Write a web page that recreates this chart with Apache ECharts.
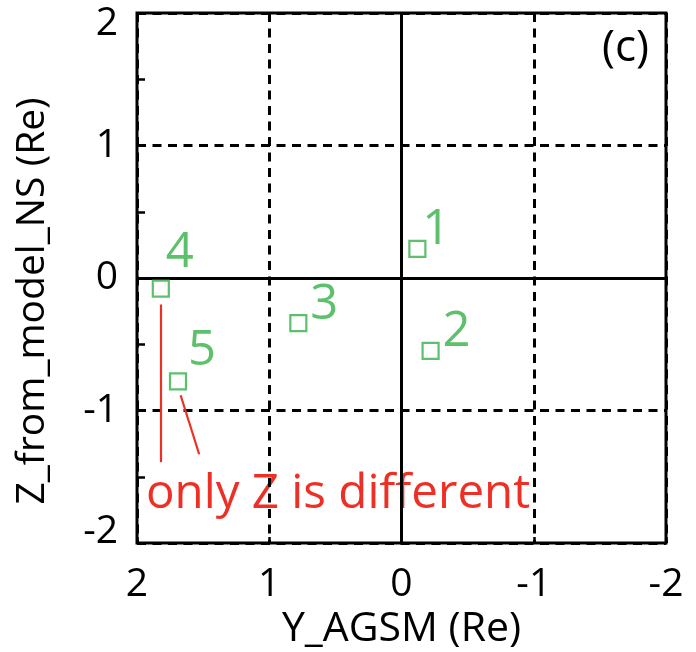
<!DOCTYPE html>
<html>
<head>
<meta charset="utf-8">
<script src="https://cdn.jsdelivr.net/npm/echarts@6/dist/echarts.min.js"></script>
<style>
  html, body { margin: 0; padding: 0; background: #fff; }
  #chart { width: 696px; height: 652px; }
</style>
</head>
<body>
<div id="chart"></div>
<script>
// Point identifiers and their coordinates (Re)
const pointIds = ['1', '2', '3', '4', '5'];
const yAgsm = [-0.12, -0.22, 0.78, 1.82, 1.69];
const zModelNs = [0.22, -0.55, -0.34, -0.08, -0.78];

// Axis ticks
const xTicks = [2, 1, 0, -1, -2];
const yTicks = [-2, -1, 0, 1, 2];

// Annotation pointers (data coordinates): [[x0, y0], [x1, y1]]
const pointerVertical = [[1.82, -0.20], [1.82, -1.39]];
const pointerSlanted = [[1.67, -0.885], [1.53, -1.33]];
const noteText = 'only Z is different';
const panelTag = '(c)';

// Label placement relative to each marker centre (px)
const labelOffsets = [[19, -19], [26, -19], [26, -18], [19, -36], [24, -30]];

const GREEN = '#34b046';
const RED = '#ee2f25';
const FONT = '"Open Sans", Lato, sans-serif';

const chart = echarts.init(document.getElementById('chart'), null, { renderer: 'canvas' });

const scatterData = pointIds.map((id, i) => ({
  value: [yAgsm[i], zModelNs[i]],
  name: id,
  label: { offset: labelOffsets[i] }
}));

// End labels of the vertical axis sit slightly inside the frame
const yMin = yTicks[0], yMax = yTicks[yTicks.length - 1];
const yLabelFormatter = v => v === yMax ? '{hi|' + v + '}' : v === yMin ? '{lo|' + v + '}' : '{n|' + v + '}';

const gridDash = { color: '#000', width: 3, type: [9, 6.5] };

const option = {
  animation: false,
  backgroundColor: '#ffffff',
  grid: {
    left: 137, right: 30, top: 13, bottom: 109,
    outerBoundsMode: 'none',
    containLabel: false,
    show: true, borderColor: '#000', borderWidth: 3, backgroundColor: 'transparent'
  },
  xAxis: {
    type: 'value',
    inverse: true,
    min: xTicks[xTicks.length - 1], max: xTicks[0], interval: 1,
    name: 'Y_AGSM (Re)',
    nameLocation: 'middle', nameGap: 60,
    nameTextStyle: { color: '#000', fontSize: 41, fontFamily: FONT },
    axisLine: { show: false, onZero: false },
    axisTick: { show: true, inside: true, length: 6, lineStyle: { color: '#000', width: 2.5 } },
    axisLabel: { color: '#000', fontSize: 39, fontFamily: FONT, margin: 22 },
    splitLine: { show: true, lineStyle: gridDash }
  },
  yAxis: {
    type: 'value',
    min: yMin, max: yMax, interval: 1,
    name: 'Z_from_model_NS (Re)',
    nameLocation: 'middle', nameGap: 85,
    nameTextStyle: { color: '#000', fontSize: 39, fontFamily: FONT, padding: [0, 46, 0, 0] },
    axisLine: { show: false, onZero: false },
    axisTick: { show: true, inside: true, length: 8, lineStyle: { color: '#000', width: 2.5 } },
    minorTick: { show: true, splitNumber: 2, length: 8, lineStyle: { color: '#000', width: 2.5 } },
    axisLabel: {
      color: '#000', fontSize: 39, fontFamily: FONT, margin: 19,
      formatter: yLabelFormatter,
      rich: {
        hi: { fontSize: 39, fontFamily: FONT, color: '#000', padding: [22, 0, 0, 0] },
        lo: { fontSize: 39, fontFamily: FONT, color: '#000', padding: [0, 0, 22, 0] },
        n: { fontSize: 39, fontFamily: FONT, color: '#000' }
      }
    },
    splitLine: { show: true, lineStyle: gridDash }
  },
  series: [
    {
      // solid zero lines
      type: 'line',
      data: [],
      silent: true,
      markLine: {
        silent: true,
        symbol: 'none',
        label: { show: false },
        lineStyle: { color: '#000', width: 3, type: 'solid' },
        data: [{ xAxis: 0 }, { yAxis: 0 }]
      }
    },
    {
      // red pointers
      type: 'line',
      data: [],
      silent: true,
      markLine: {
        silent: true,
        symbol: 'none',
        label: { show: false },
        lineStyle: { color: RED, width: 2.2, type: 'solid' },
        data: [
          [{ coord: pointerVertical[0] }, { coord: pointerVertical[1] }],
          [{ coord: pointerSlanted[0] }, { coord: pointerSlanted[1] }]
        ]
      }
    },
    {
      type: 'scatter',
      data: scatterData,
      symbol: 'rect',
      symbolSize: 16,
      itemStyle: { color: 'rgba(0,0,0,0)', borderColor: GREEN, borderWidth: 2.2 },
      label: {
        show: true,
        position: 'inside',
        formatter: p => p.name,
        color: GREEN,
        fontSize: 49,
        fontFamily: FONT
      },
      z: 5
    }
  ],
  graphic: [
    {
      type: 'text',
      left: 146, top: 470,
      style: { text: noteText, fill: RED, font: '47.5px ' + FONT }
    },
    {
      type: 'text',
      left: 602, top: 26,
      style: { text: panelTag, fill: '#000', font: '44px ' + FONT }
    }
  ]
};

chart.setOption(option);
</script>
</body>
</html>
